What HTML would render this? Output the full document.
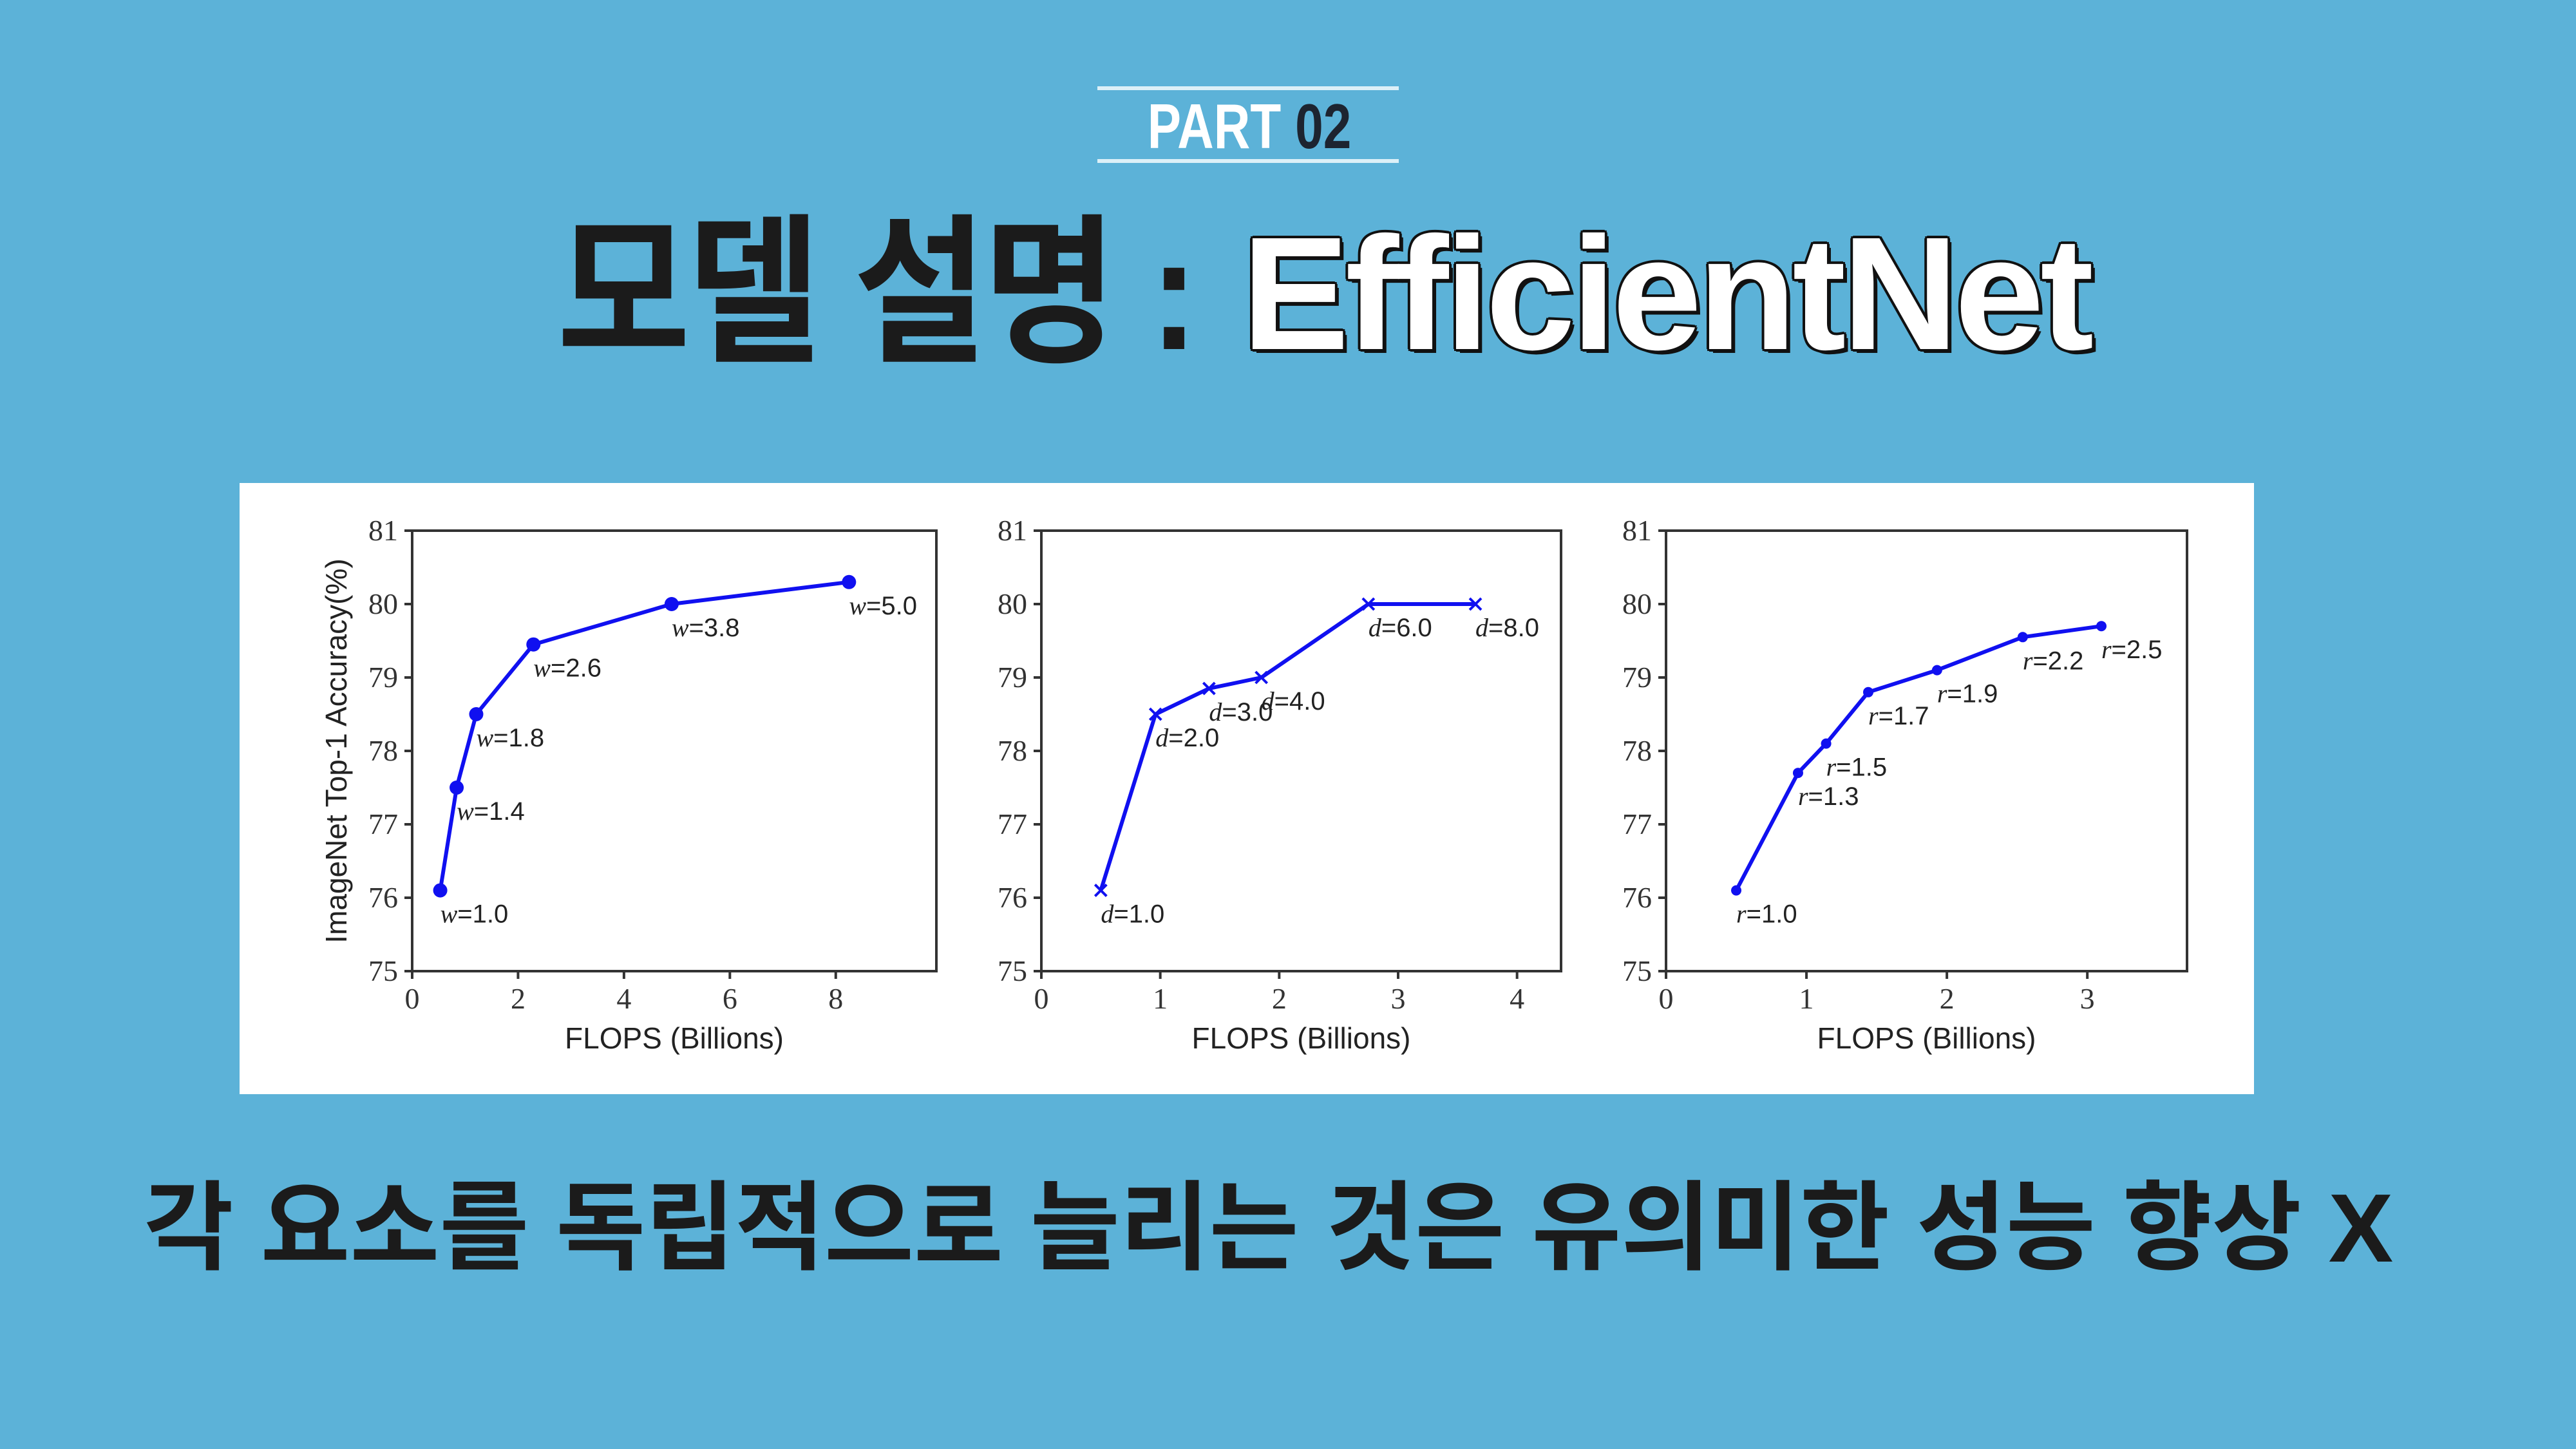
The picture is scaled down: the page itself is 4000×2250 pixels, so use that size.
<!DOCTYPE html>
<html><head><meta charset="utf-8">
<style>
html,body{margin:0;padding:0}
body{width:4000px;height:2250px;background:#5cb2d8;position:relative;overflow:hidden;font-family:"Liberation Sans","Noto Sans CJK KR",sans-serif}
.abs{position:absolute}
#part{left:0;width:3880px;top:140px;text-align:center;font-size:98px;font-weight:bold;font-family:"Liberation Sans Narrow","Liberation Sans","Noto Sans CJK KR",sans-serif;transform:scaleX(0.8);transform-origin:1940px 0;letter-spacing:0px}
.hl{left:1704px;width:468px;height:6px;background:#dcf0f8}
#title{left:0;width:4000px;top:252px;text-align:center;font-size:250px;font-weight:bold;letter-spacing:-6px;white-space:nowrap;font-family:"Liberation Sans","Noto Sans CJK KR",sans-serif}
#ko{display:inline-block;transform:scaleX(0.9);transform-origin:right center;margin-right:10px}
#sub{left:0;width:3940px;top:1785px;text-align:center;font-size:151px;font-weight:bold;color:#1b1b1b;white-space:nowrap;font-family:"Liberation Sans","Noto Sans CJK KR",sans-serif}
</style></head><body>
<div class="abs hl" style="top:134px"></div>
<div class="abs" id="part"><span style="color:#fff">PART</span> <span style="color:#1d2430">02</span></div>
<div class="abs hl" style="top:247px"></div>
<div class="abs" id="title"><span id="ko" style="color:#1b1b1b">모델 설명 :</span> <span style="color:#fff;text-shadow:6px 6px 0 #111,-3px -3px 0 #111,3px -3px 0 #111,-3px 3px 0 #111,3px 3px 0 #111,0 4px 0 #111,4px 0 0 #111,-4px 0 0 #111,0 -4px 0 #111">EfficientNet</span></div>
<svg class="abs" style="left:0;top:0" width="4000" height="2250" id="svg">
<rect x="372" y="750" width="3128" height="949" fill="#fff"/>
</svg>
<div class="abs" id="sub">각 요소를 독립적으로 늘리는 것은 유의미한 성능 향상 X</div>
<script>
const wFlops=[0.53,0.84,1.21,2.29,4.9,8.25];
const wAcc=[76.1,77.5,78.5,79.45,80.0,80.3];
const wLabels=["1.0","1.4","1.8","2.6","3.8","5.0"];
const dFlops=[0.5,0.96,1.41,1.85,2.75,3.65];
const dAcc=[76.1,78.5,78.85,79.0,80.0,80.0];
const dLabels=["1.0","2.0","3.0","4.0","6.0","8.0"];
const rFlops=[0.5,0.94,1.14,1.44,1.93,2.54,3.1];
const rAcc=[76.1,77.7,78.1,78.8,79.1,79.55,79.7];
const rLabels=["1.0","1.3","1.5","1.7","1.9","2.2","2.5"];
const yTicks=[75,76,77,78,79,80,81];
const xTicks1=[0,2,4,6,8];
const xTicks2=[0,1,2,3,4];
const xTicks3=[0,1,2,3];
const NS="http://www.w3.org/2000/svg";
const svg=document.getElementById('svg');
function mk(tag,attrs,parent){const e=document.createElementNS(NS,tag);for(const k in attrs)e.setAttribute(k,attrs[k]);(parent||svg).appendChild(e);return e;}
const top_=824,bot=1508;
function chart(idx,left,right,xmax,xs,ys,labs,xt,pre,marker,yTitle){
  const g=mk('g',{});
  
  
  const X=v=>left+(right-left)*v/xmax;
  const Y=v=>bot-(bot-top_)*(v-75)/6;
  const fr=mk('rect',{x:left,y:top_,width:right-left,height:bot-top_,fill:'none',stroke:'#333','stroke-width':4},g);
  
  
  yTicks.forEach(t=>{
    mk('line',{x1:left-12,x2:left,y1:Y(t),y2:Y(t),stroke:'#333','stroke-width':4},g);
    const tx=mk('text',{x:left-22,y:Y(t)+15,'text-anchor':'end','font-size':46,'font-family':'Liberation Serif, serif',fill:'#333'},g);
    tx.textContent=t;
    
    
  });
  xt.forEach(t=>{
    mk('line',{x1:X(t),x2:X(t),y1:bot,y2:bot+12,stroke:'#333','stroke-width':4},g);
    const tx=mk('text',{x:X(t),y:bot+58,'text-anchor':'middle','font-size':46,'font-family':'Liberation Serif, serif',fill:'#333'},g);
    tx.textContent=t;
    
    
  });
  const xl=mk('text',{x:(left+right)/2,y:1628,'text-anchor':'middle','font-size':46,fill:'#222','font-family':'Liberation Sans, sans-serif'},g);
  xl.textContent='FLOPS (Billions)';
  
  
  if(yTitle){
    const yl=mk('text',{x:0,y:0,'text-anchor':'middle','font-size':46,fill:'#222','font-family':'Liberation Sans, sans-serif',transform:`translate(538,${(top_+bot)/2}) rotate(-90)`},g);
    yl.textContent='ImageNet Top-1 Accuracy(%)';
    
    
  }
  const pts=xs.map((v,i)=>X(v)+','+Y(ys[i])).join(' ');
  const pl=mk('polyline',{points:pts,fill:'none',stroke:'#1010f0','stroke-width':6,'stroke-linejoin':'round'},g);
  
  
  xs.forEach((v,i)=>{
    const cx=X(v),cy=Y(ys[i]);
    let m;
    if(marker==='o'){m=mk('circle',{cx,cy,r:11,fill:'#1010f0'},g);}
    else if(marker==='x'){m=mk('path',{d:`M${cx-9} ${cy-9}L${cx+9} ${cy+9}M${cx+9} ${cy-9}L${cx-9} ${cy+9}`,stroke:'#1010f0','stroke-width':4},g);}
    else{m=mk('circle',{cx,cy,r:8,fill:'#1010f0'},g);}
    
    
    const t=mk('text',{x:cx,y:cy+50,'font-size':40,fill:'#222','font-family':'Liberation Sans, sans-serif'},g);
    const it=mk('tspan',{'font-style':'italic','font-family':'Liberation Serif, serif'},t);
    it.textContent=pre;
    const rest=mk('tspan',{},t);
    rest.textContent='='+labs[i];
    
    
  });
}
chart(1,640,1454,9.9,wFlops,wAcc,wLabels,xTicks1,'w','o',true);
chart(2,1617,2424,4.37,dFlops,dAcc,dLabels,xTicks2,'d','x',false);
chart(3,2587,3396,3.71,rFlops,rAcc,rLabels,xTicks3,'r','*',false);
</script>
</body></html>
